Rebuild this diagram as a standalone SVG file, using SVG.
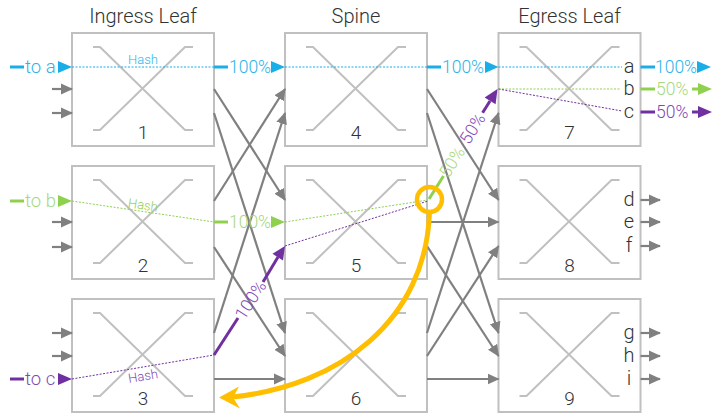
<svg xmlns="http://www.w3.org/2000/svg" width="712" height="414" viewBox="0 0 712 414">
<defs>
<style>
text{font-family:Roboto,"Liberation Sans",sans-serif;font-weight:300}
.box{fill:#fff;stroke:#c0c0c0;stroke-width:2}
.x{fill:none;stroke:#c0c0c0;stroke-width:2}
.num{font-size:19px;fill:#333;text-anchor:middle}
.title{font-size:20px;fill:#333;text-anchor:middle}
.lbl{font-size:20px;fill:#333;text-anchor:middle}
.g{stroke:#808080;stroke-width:2.2;fill:none;marker-end:url(#ag)}
.cy{stroke:#1aaee8;stroke-width:3;fill:none}
.cyd{stroke:#1aaee8;stroke-width:1;stroke-dasharray:2 1.5;fill:none}
.cyt{fill:#2db3ea;font-size:17.5px}
.cyf{fill:#1aaee8}
.gr{stroke:#8fd14f;stroke-width:3;fill:none}
.grd{stroke:#8fd14f;stroke-width:1;stroke-dasharray:2 1.5;fill:none}
.grt{fill:#a6d97e;font-size:17.5px}
.grf{fill:#8fd14f}
.pu{stroke:#7030a0;stroke-width:3;fill:none}
.pud{stroke:#7030a0;stroke-width:1;stroke-dasharray:2 1.5;fill:none}
.put{fill:#7f48b6;font-size:17.5px}
.puf{fill:#7030a0}
.lead{font-size:18.5px}
.hash{font-size:13px;text-anchor:middle}
</style>
<marker id="ag" viewBox="0 0 12 12" refX="11" refY="6" markerWidth="12" markerHeight="12" markerUnits="userSpaceOnUse" orient="auto">
<path d="M0,0.5 L12,6 L0,11.5 z" fill="#808080"/>
</marker>
<path id="xs" d="M21,14 H28 L113,97 H121 M121,14 H113 L28,97 H21"/>
</defs>
<rect width="712" height="414" fill="#fff"/>

<text class="title" x="143" y="23">Ingress Leaf</text>
<text class="title" x="356" y="23">Spine</text>
<text class="title" x="569.5" y="23">Egress Leaf</text>

<g id="n1" transform="translate(72,33)"><rect class="box" width="142" height="113"/><use href="#xs" class="x"/><text class="num" x="71" y="106">1</text></g>
<g id="n2" transform="translate(72,166)"><rect class="box" width="142" height="113"/><use href="#xs" class="x"/><text class="num" x="71" y="106">2</text></g>
<g id="n3" transform="translate(72,299)"><rect class="box" width="142" height="113"/><use href="#xs" class="x"/><text class="num" x="71" y="106">3</text></g>
<g id="n4" transform="translate(285,33)"><rect class="box" width="142" height="113"/><use href="#xs" class="x"/><text class="num" x="71" y="106">4</text></g>
<g id="n5" transform="translate(285,166)"><rect class="box" width="142" height="113"/><use href="#xs" class="x"/><text class="num" x="71" y="106">5</text></g>
<g id="n6" transform="translate(285,299)"><rect class="box" width="142" height="113"/><use href="#xs" class="x"/><text class="num" x="71" y="106">6</text></g>
<g id="n7" transform="translate(498.5,33)"><rect class="box" width="142" height="113"/><use href="#xs" class="x"/><text class="num" x="71" y="106">7</text>
<text class="lbl" x="130.5" y="40">a</text><text class="lbl" x="130.5" y="62">b</text><text class="lbl" x="130.5" y="85">c</text></g>
<g id="n8" transform="translate(498.5,166)"><rect class="box" width="142" height="113"/><use href="#xs" class="x"/><text class="num" x="71" y="106">8</text>
<text class="lbl" x="130.5" y="40">d</text><text class="lbl" x="130.5" y="62">e</text><text class="lbl" x="130.5" y="86">f</text></g>
<g id="n9" transform="translate(498.5,299)"><rect class="box" width="142" height="113"/><use href="#xs" class="x"/><text class="num" x="71" y="106">9</text>
<text class="lbl" x="130.5" y="40">g</text><text class="lbl" x="130.5" y="63">h</text><text class="lbl" x="130.5" y="86">i</text></g>

<g id="connectors">
<line class="g" x1="52" y1="89" x2="72" y2="89"/>
<line class="g" x1="52" y1="113" x2="72" y2="113"/>
<line class="g" x1="52" y1="222" x2="72" y2="222"/>
<line class="g" x1="52" y1="247" x2="72" y2="247"/>
<line class="g" x1="52" y1="333" x2="72" y2="333"/>
<line class="g" x1="52" y1="356" x2="72" y2="356"/>
<line class="g" x1="214" y1="89" x2="285" y2="200"/>
<line class="g" x1="214" y1="113" x2="285" y2="333"/>
<line class="g" x1="214" y1="201" x2="285" y2="89"/>
<line class="g" x1="214" y1="247" x2="285" y2="356"/>
<line class="g" x1="214" y1="333" x2="285" y2="113"/>
<line class="g" x1="214" y1="379" x2="285" y2="379"/>
<line class="g" x1="427" y1="89" x2="498.5" y2="200"/>
<line class="g" x1="427" y1="113" x2="498.5" y2="333"/>
<line class="g" x1="427" y1="222" x2="498.5" y2="222"/>
<line class="g" x1="427" y1="246" x2="498.5" y2="356"/>
<line class="g" x1="427" y1="333" x2="498.5" y2="113"/>
<line class="g" x1="427" y1="356" x2="498.5" y2="246"/>
<line class="g" x1="427" y1="379" x2="498.5" y2="379"/>
<line class="g" x1="640.5" y1="200" x2="660" y2="200"/>
<line class="g" x1="640.5" y1="222" x2="660" y2="222"/>
<line class="g" x1="640.5" y1="246" x2="660" y2="246"/>
<line class="g" x1="640.5" y1="333" x2="660" y2="333"/>
<line class="g" x1="640.5" y1="356" x2="660" y2="356"/>
<line class="g" x1="640.5" y1="379" x2="660" y2="379"/>

<line class="cy" x1="10" y1="67" x2="24" y2="67"/>
<text class="cyt lead" x="25" y="73">to a</text>
<polygon class="cyf" points="58,61 72,67 58,73"/>
<line class="cyd" x1="72" y1="67" x2="214" y2="67"/>
<text class="hash" x="143" y="63.5" fill="#2db3ea">Hash</text>
<line class="cy" x1="214" y1="67" x2="228" y2="67"/>
<text class="cyt" x="229" y="73">100%</text>
<polygon class="cyf" points="271,61 285,67 271,73"/>
<line class="cyd" x1="285" y1="67" x2="427" y2="67"/>
<line class="cy" x1="427" y1="67" x2="441" y2="67"/>
<text class="cyt" x="442" y="73">100%</text>
<polygon class="cyf" points="485,61 498.5,67 485,73"/>
<line class="cyd" x1="498.5" y1="67" x2="622" y2="67"/>
<line class="cy" x1="640.5" y1="67" x2="655" y2="67"/>
<text class="cyt" x="655" y="73">100%</text>
<polygon class="cyf" points="697,61 711,67 697,73"/>

<line class="gr" x1="10" y1="201" x2="24" y2="201"/>
<text class="grt lead" x="25" y="207">to b</text>
<polygon class="grf" points="58,195 72,201 58,207"/>
<line class="grd" x1="72" y1="201" x2="214" y2="222"/>
<text class="hash" fill="#8fd14f" transform="translate(143,205) rotate(8.4)" y="4.5">Hash</text>
<line class="gr" x1="214" y1="222" x2="228" y2="222"/>
<text class="grt" x="229" y="228">100%</text>
<polygon class="grf" points="271,216 285,222 271,228"/>
<line class="grd" x1="285" y1="222" x2="428" y2="200"/>
<line class="gr" x1="429" y1="199" x2="443.5" y2="176"/>
<text class="grt" text-anchor="middle" transform="translate(452,162) rotate(-58)" y="6">50%</text>
<line class="grd" x1="498.5" y1="89" x2="621" y2="89"/>
<line class="gr" x1="640.5" y1="89" x2="655" y2="89"/>
<text class="grt" x="656" y="95">50%</text>
<line class="gr" x1="692" y1="89" x2="700" y2="89"/>
<polygon class="grf" points="698,83 712,89 698,95"/>

<line class="pu" x1="10" y1="379" x2="24" y2="379"/>
<text class="put lead" x="25" y="385">to c</text>
<polygon class="puf" points="58,373 72,379 58,385"/>
<line class="pud" x1="72" y1="379" x2="214" y2="355"/>
<text class="hash" fill="#7f48b6" transform="translate(143,376) rotate(-9.6)" y="4.5">Hash</text>
<line class="pu" x1="214" y1="355" x2="238" y2="318"/>
<text class="put" text-anchor="middle" transform="translate(250.5,300) rotate(-57.3)" y="6">100%</text>
<line class="pu" x1="263" y1="282" x2="278" y2="257"/>
<polygon class="puf" points="285,246 283,260.5 272.5,253.8"/>
<line class="pud" x1="285" y1="246" x2="428" y2="201"/>
<text class="put" text-anchor="middle" transform="translate(472.5,128.5) rotate(-58)" y="6">50%</text>
<line class="pu" x1="482.6" y1="112.8" x2="490" y2="101"/>
<polygon class="puf" points="497.5,89 495.6,104.3 484.6,97.5"/>
<line class="pud" x1="498.5" y1="89" x2="622" y2="111"/>
<line class="pu" x1="640.5" y1="112" x2="655" y2="112"/>
<text class="put" x="656" y="118">50%</text>
<line class="pu" x1="692" y1="112" x2="700" y2="112"/>
<polygon class="puf" points="698,106 712,112 698,118"/>

<circle cx="429.5" cy="199.5" r="12.5" fill="none" stroke="#ffbf00" stroke-width="4.5"/>
<path d="M429.5,212 C426,320 340,386 232,397" fill="none" stroke="#ffbf00" stroke-width="5"/>
<polygon points="219,397.5 239,386.5 233,397.5 240,408.5" fill="#ffbf00"/>
</g>
</svg>
